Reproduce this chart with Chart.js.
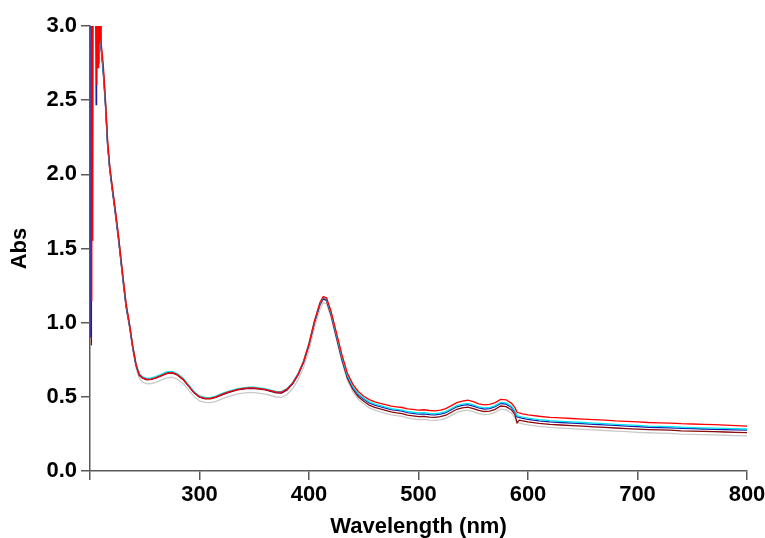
<!DOCTYPE html>
<html>
<head>
<meta charset="utf-8">
<script src="https://cdn.jsdelivr.net/npm/chart.js@4.4.1/dist/chart.umd.min.js"></script>
<style>
  html, body { margin: 0; padding: 0; background: #ffffff; }
  #wrap { width: 765px; height: 538px; }
</style>
</head>
<body>
<div id="wrap"><canvas id="spectra" width="765" height="538"></canvas></div>
<script>
// Wavelength grid (nm) shared by all scans from 210 nm onward
const wavelengths = [
  210, 212, 214, 216, 218, 220,
  223, 226, 230, 233, 236, 239, 242, 245, 248,
  252, 256, 260, 265, 270, 275, 280, 285, 290, 295, 300,
  305, 310, 315, 320, 325, 330, 335, 340, 345, 350,
  355, 360, 365, 370, 375, 380, 385, 390, 395, 400,
  405, 410, 413, 416, 420, 425, 430, 435, 440, 445, 450,
  455, 460, 465, 470, 475, 480, 485, 490, 495, 500,
  505, 510, 515, 520, 525, 530, 535, 540, 545, 550,
  555, 560, 565, 570, 575, 580, 585, 588, 590, 592, 595, 600,
  610, 620, 630, 640, 650, 660, 670, 680, 690, 700,
  710, 720, 730, 740, 750, 760, 770, 780, 790, 800
];

// Absorbance of each scan on the shared grid
const absRed = [
  2.90, 2.75, 2.52, 2.24, 2.06, 1.94,
  1.77, 1.59, 1.32, 1.13, 0.995, 0.845, 0.722, 0.650, 0.628,
  0.618, 0.620, 0.628, 0.643, 0.658, 0.664, 0.648, 0.618, 0.574, 0.530, 0.500,
  0.490, 0.490, 0.500, 0.515, 0.530, 0.541, 0.551, 0.557, 0.561, 0.560,
  0.556, 0.551, 0.542, 0.532, 0.532, 0.552, 0.592, 0.652, 0.738, 0.858,
  1.012, 1.136, 1.176, 1.168, 1.080, 0.935, 0.786, 0.661, 0.586, 0.536, 0.504,
  0.481, 0.466, 0.456, 0.447, 0.438, 0.433, 0.428, 0.419, 0.415, 0.411,
  0.413, 0.408, 0.406, 0.411, 0.421, 0.441, 0.461, 0.471, 0.477, 0.467,
  0.453, 0.446, 0.449, 0.461, 0.483, 0.480, 0.456, 0.429, 0.396, 0.391, 0.385, 0.379,
  0.369, 0.361, 0.358, 0.354, 0.350, 0.347, 0.343, 0.338, 0.335, 0.331,
  0.327, 0.325, 0.323, 0.319, 0.317, 0.314, 0.312, 0.309, 0.306, 0.303
];
const absCyan = [
  2.88, 2.72, 2.50, 2.22, 2.05, 1.93,
  1.76, 1.58, 1.31, 1.12, 0.99, 0.84, 0.72, 0.655, 0.635,
  0.625, 0.627, 0.636, 0.651, 0.668, 0.672, 0.656, 0.626, 0.581, 0.536, 0.506,
  0.496, 0.495, 0.505, 0.521, 0.534, 0.546, 0.556, 0.561, 0.566, 0.565,
  0.561, 0.556, 0.546, 0.536, 0.535, 0.556, 0.596, 0.656, 0.741, 0.861,
  1.011, 1.131, 1.171, 1.160, 1.070, 0.921, 0.771, 0.646, 0.571, 0.521, 0.491,
  0.466, 0.451, 0.441, 0.431, 0.421, 0.416, 0.411, 0.401, 0.396, 0.391,
  0.393, 0.388, 0.386, 0.391, 0.401, 0.421, 0.441, 0.451, 0.456, 0.446,
  0.433, 0.426, 0.429, 0.441, 0.463, 0.459, 0.436, 0.406, 0.373, 0.369, 0.363, 0.356,
  0.346, 0.339, 0.335, 0.331, 0.327, 0.323, 0.319, 0.315, 0.311, 0.307,
  0.303, 0.301, 0.299, 0.295, 0.293, 0.291, 0.289, 0.287, 0.285, 0.283
];
const absNavy = [
  2.86, 2.70, 2.49, 2.21, 2.04, 1.92,
  1.75, 1.57, 1.30, 1.11, 0.985, 0.835, 0.715, 0.648, 0.628,
  0.618, 0.621, 0.630, 0.645, 0.661, 0.665, 0.650, 0.620, 0.575, 0.530, 0.500,
  0.490, 0.489, 0.499, 0.515, 0.528, 0.540, 0.550, 0.555, 0.560, 0.559,
  0.555, 0.550, 0.540, 0.530, 0.529, 0.550, 0.590, 0.650, 0.735, 0.855,
  1.005, 1.125, 1.166, 1.155, 1.065, 0.915, 0.765, 0.640, 0.565, 0.514, 0.484,
  0.459, 0.444, 0.434, 0.424, 0.414, 0.409, 0.404, 0.394, 0.389, 0.384,
  0.385, 0.380, 0.378, 0.383, 0.393, 0.413, 0.433, 0.443, 0.448, 0.438,
  0.425, 0.418, 0.421, 0.433, 0.455, 0.451, 0.428, 0.398, 0.365, 0.361, 0.355, 0.348,
  0.338, 0.331, 0.327, 0.323, 0.319, 0.315, 0.311, 0.307, 0.303, 0.299,
  0.295, 0.293, 0.291, 0.287, 0.285, 0.283, 0.281, 0.279, 0.277, 0.275
];
const absMaroon = [
  2.87, 2.71, 2.49, 2.21, 2.04, 1.92,
  1.75, 1.57, 1.30, 1.11, 0.985, 0.835, 0.714, 0.645, 0.625,
  0.615, 0.617, 0.626, 0.641, 0.657, 0.661, 0.646, 0.616, 0.572, 0.527, 0.497,
  0.487, 0.486, 0.496, 0.512, 0.525, 0.537, 0.547, 0.552, 0.557, 0.556,
  0.552, 0.547, 0.537, 0.527, 0.526, 0.547, 0.587, 0.647, 0.731, 0.850,
  1.000, 1.120, 1.160, 1.148, 1.055, 0.903, 0.752, 0.627, 0.551, 0.500, 0.470,
  0.444, 0.429, 0.418, 0.408, 0.398, 0.392, 0.387, 0.377, 0.372, 0.367,
  0.368, 0.363, 0.361, 0.366, 0.376, 0.396, 0.416, 0.426, 0.431, 0.421,
  0.408, 0.401, 0.404, 0.416, 0.438, 0.434, 0.411, 0.381, 0.325, 0.343, 0.338, 0.331,
  0.321, 0.314, 0.310, 0.306, 0.302, 0.298, 0.294, 0.290, 0.286, 0.282,
  0.279, 0.277, 0.275, 0.271, 0.269, 0.267, 0.265, 0.263, 0.261, 0.259
];
const absGray = [
  2.84, 2.68, 2.46, 2.19, 2.02, 1.90,
  1.73, 1.55, 1.28, 1.09, 0.965, 0.815, 0.695, 0.625, 0.600,
  0.588, 0.590, 0.598, 0.612, 0.628, 0.632, 0.618, 0.590, 0.547, 0.503, 0.473,
  0.462, 0.461, 0.470, 0.485, 0.498, 0.510, 0.520, 0.525, 0.529, 0.528,
  0.524, 0.519, 0.509, 0.499, 0.497, 0.516, 0.555, 0.614, 0.697, 0.815,
  0.965, 1.090, 1.135, 1.128, 1.040, 0.890, 0.738, 0.612, 0.535, 0.483, 0.452,
  0.426, 0.410, 0.399, 0.389, 0.379, 0.373, 0.368, 0.358, 0.352, 0.347,
  0.348, 0.343, 0.341, 0.345, 0.355, 0.375, 0.395, 0.405, 0.410, 0.400,
  0.387, 0.380, 0.383, 0.395, 0.417, 0.413, 0.390, 0.360, 0.328, 0.324, 0.318, 0.311,
  0.301, 0.294, 0.289, 0.285, 0.281, 0.277, 0.273, 0.269, 0.265, 0.261,
  0.258, 0.255, 0.253, 0.249, 0.247, 0.245, 0.243, 0.241, 0.239, 0.237
];

// Detector-saturated region below 210 nm: [nm, Abs] pairs (readings above 3.0 run off scale)
const edgeRed    = [[201.3, 1.15], [201.6, 3.3], [202.2, 3.3], [202.5, 1.55], [202.9, 3.3], [205.8, 3.3], [206.2, 2.60], [206.6, 3.3], [207.4, 2.72], [207.9, 3.3], [208.6, 2.88], [209.3, 3.1]];
const edgeCyan   = [[208.2, 3.3], [209.2, 3.0]];
const edgeNavy   = [[200.8, 0.90], [201.0, 3.3], [205.2, 3.3], [205.6, 2.47], [206.0, 3.3], [208.6, 3.3], [209.3, 2.95]];
const edgeMaroon = [[201.0, 0.85], [201.3, 3.3], [207.0, 3.3], [207.6, 2.75], [208.2, 3.3], [209.2, 3.0]];
const edgeGray   = [[205.5, 3.3], [206.2, 2.75], [206.9, 3.3], [208.5, 3.3], [209.3, 3.0]];

// Axis tick values (200 sits at the y axis and is left blank)
const xTickValues = [300, 400, 500, 600, 700, 800];
const yTickValues = [0.0, 0.5, 1.0, 1.5, 2.0, 2.5, 3.0];

function toPoints(edge, values) {
  const pts = edge.map(p => ({ x: p[0], y: p[1] }));
  wavelengths.forEach((w, i) => pts.push({ x: w, y: values[i] }));
  return pts;
}

const scans = [
  { data: toPoints(edgeRed, absRed),       color: '#ff0000', order: 1 },
  { data: toPoints(edgeCyan, absCyan),     color: '#00e6f0', order: 2 },
  { data: toPoints(edgeNavy, absNavy),     color: '#1c1ca8', order: 3 },
  { data: toPoints(edgeMaroon, absMaroon), color: '#8a0a0a', order: 4 },
  { data: toPoints(edgeGray, absGray),     color: '#c9c9c9', order: 5 }
];

const axisColor = '#5a5a5a';
const fontFamily = "'Liberation Sans', Arial, sans-serif";
const tickFont = { family: fontFamily, size: 22, weight: 'bold' };

new Chart(document.getElementById('spectra'), {
  type: 'line',
  data: {
    datasets: scans.map(s => ({
      data: s.data,
      borderColor: s.color,
      backgroundColor: s.color,
      borderWidth: 1.3,
      pointRadius: 0,
      tension: 0,
      fill: false,
      order: s.order
    }))
  },
  options: {
    responsive: false,
    animation: false,
    devicePixelRatio: 1,
    layout: { padding: { left: 0, right: 18, top: 26, bottom: 0 } },
    plugins: { legend: { display: false }, tooltip: { enabled: false } },
    scales: {
      x: {
        type: 'linear',
        min: 200,
        max: 800,
        afterBuildTicks: scale => {
          scale.ticks = [200].concat(xTickValues).map(v => ({ value: v }));
        },
        afterFit: scale => {
          scale.height = 67;
          scale.paddingLeft = 0;
          scale.paddingRight = 0;
        },
        ticks: {
          font: tickFont,
          color: '#000000',
          padding: 2,
          maxRotation: 0,
          callback: v => (xTickValues.includes(v) ? String(v) : '')
        },
        grid: { drawOnChartArea: false, drawTicks: true, tickLength: 9, color: axisColor, lineWidth: 1.5 },
        border: { display: true, color: axisColor, width: 1.5 },
        title: {
          display: true,
          text: 'Wavelength (nm)',
          color: '#000000',
          font: { family: fontFamily, size: 22, weight: 'bold', lineHeight: 1.0 },
          padding: { top: 0, bottom: 0 }
        }
      },
      y: {
        type: 'linear',
        min: 0,
        max: 3,
        afterBuildTicks: scale => {
          scale.ticks = yTickValues.map(v => ({ value: v }));
        },
        afterFit: scale => {
          scale.width = 90;
          scale.paddingTop = 0;
          scale.paddingBottom = 0;
        },
        ticks: {
          font: tickFont,
          color: '#000000',
          padding: 4,
          callback: v => Number(v).toFixed(1)
        },
        grid: { drawOnChartArea: false, drawTicks: true, tickLength: 9, color: axisColor, lineWidth: 1.5 },
        border: { display: true, color: axisColor, width: 1.5 },
        title: {
          display: true,
          text: 'Abs',
          color: '#000000',
          font: { family: fontFamily, size: 22, weight: 'bold' },
          padding: { top: 7, bottom: 0 }
        }
      }
    }
  }
});
</script>
</body>
</html>
